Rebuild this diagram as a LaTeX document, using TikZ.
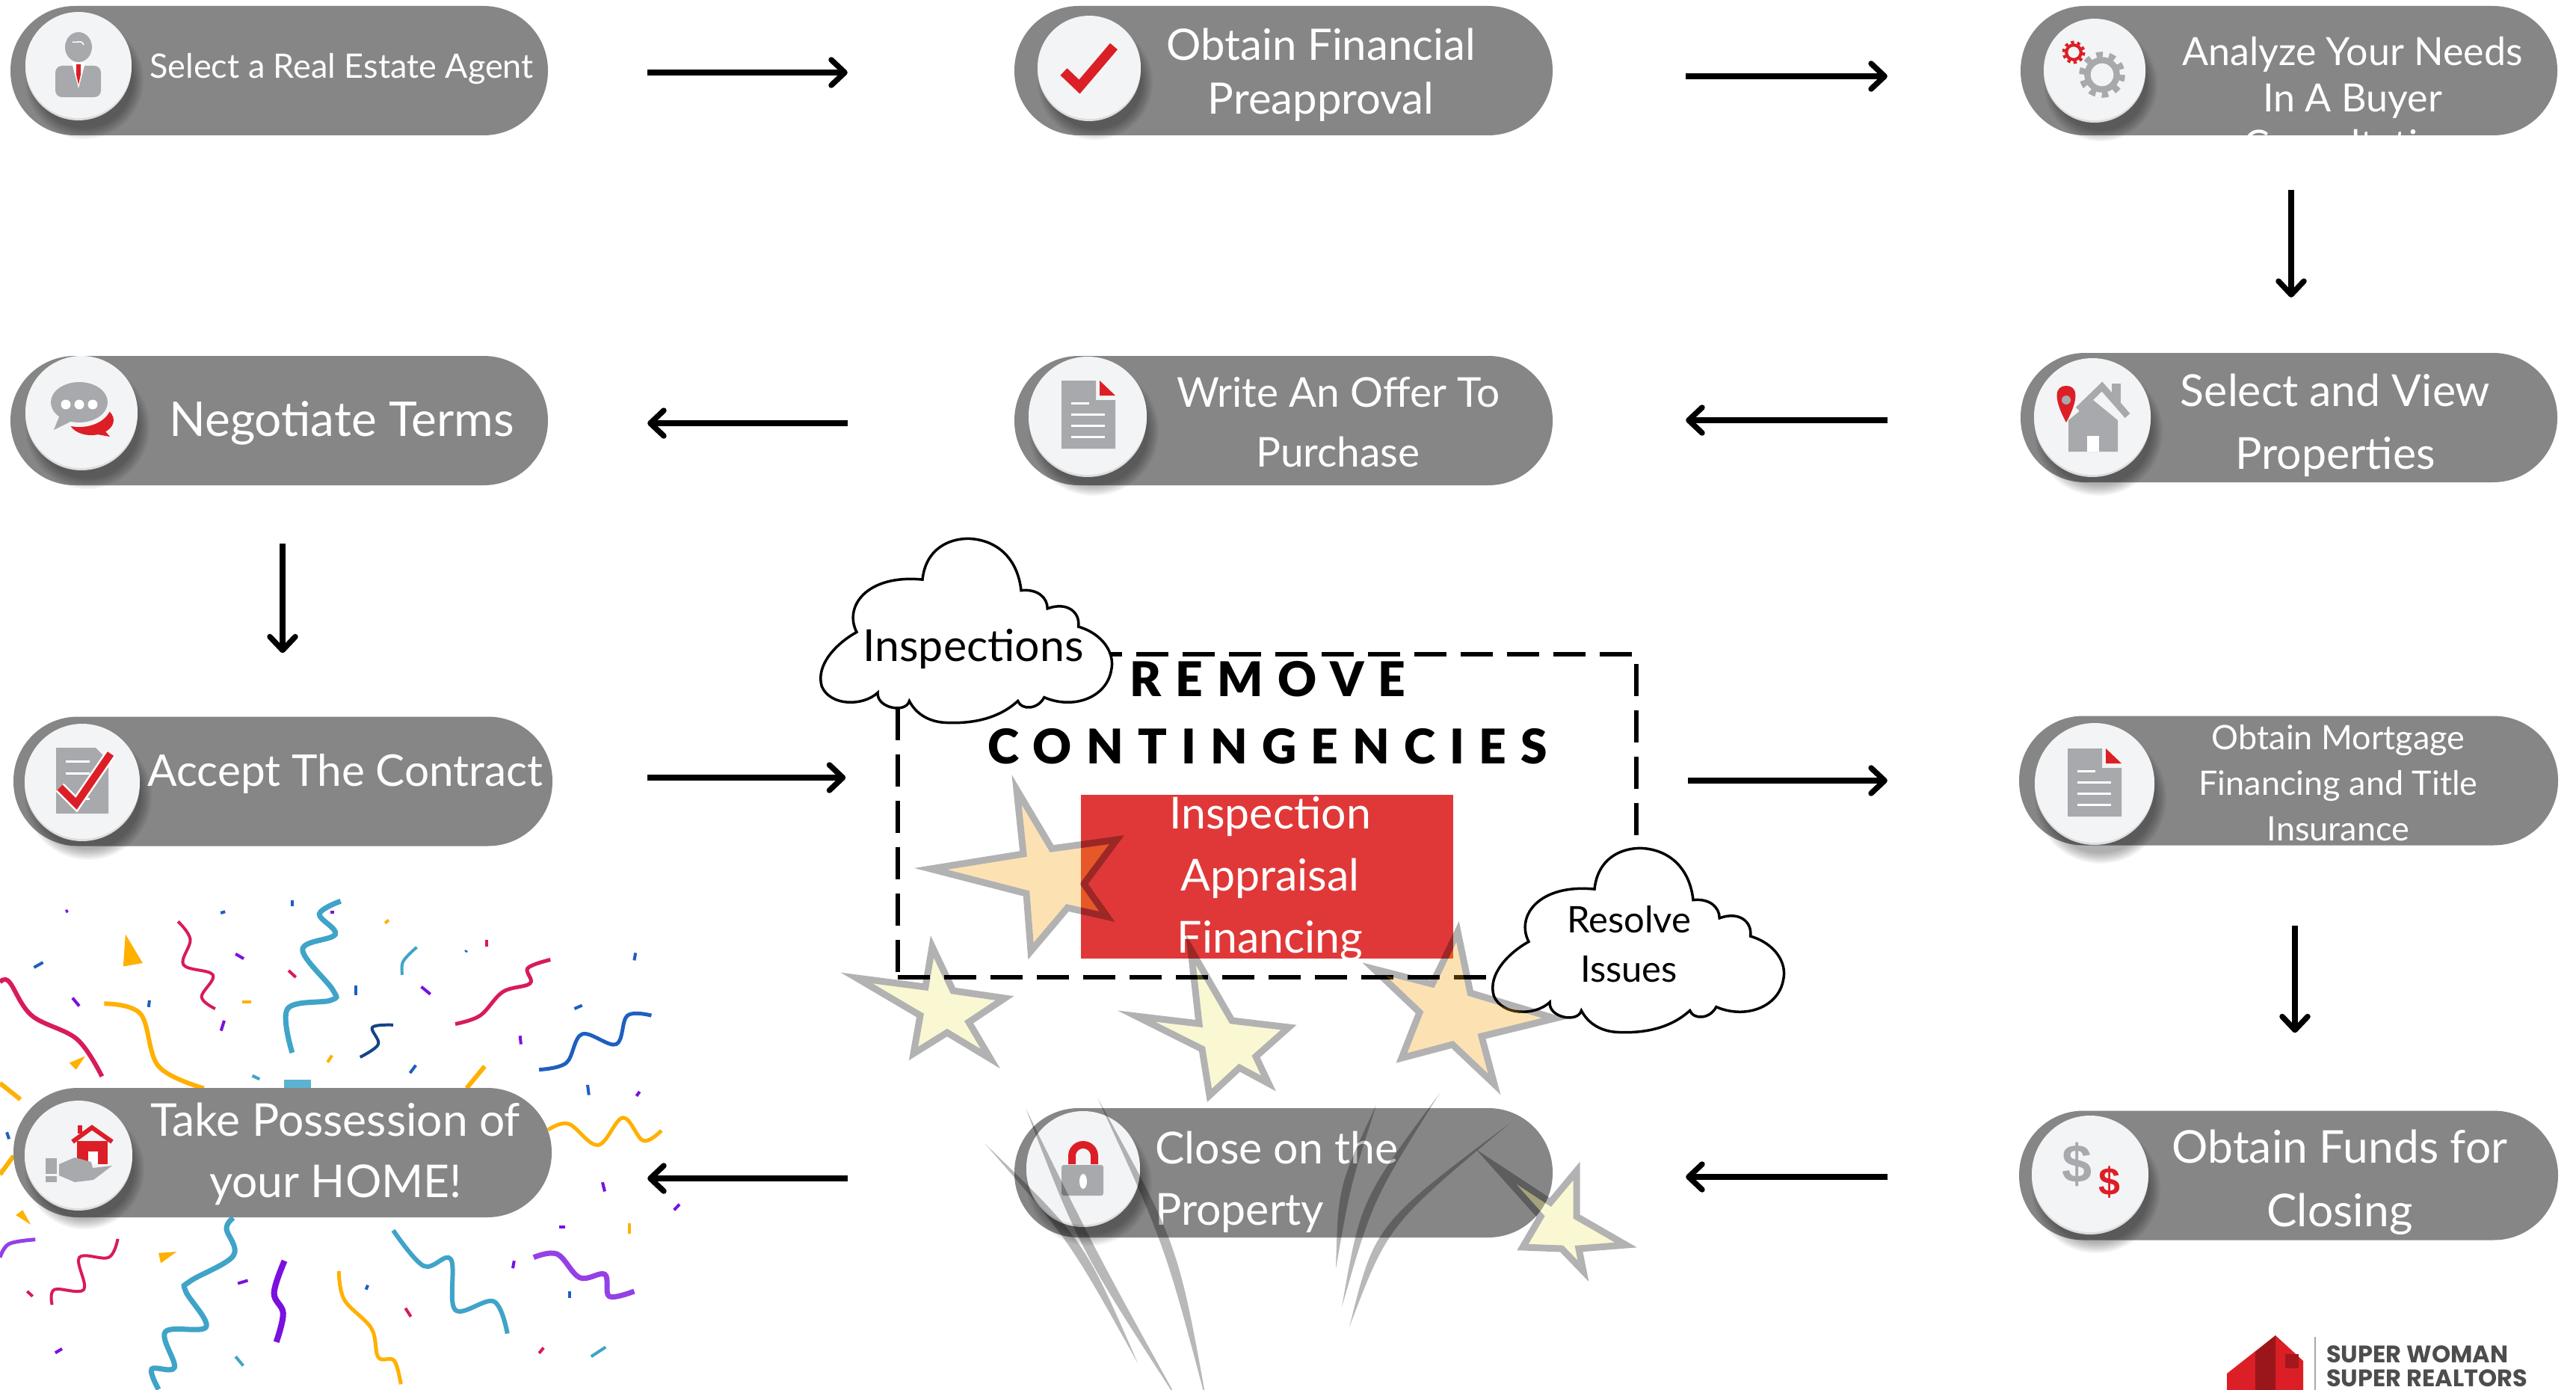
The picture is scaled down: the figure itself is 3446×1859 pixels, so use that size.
\documentclass[tikz,border=0pt]{standalone}
\usepackage{fontspec}
\usetikzlibrary{arrows.meta}
\setmainfont{Lato}
\newfontfamily\logofont{Poppins}
\newfontfamily\dollarfont{Liberation Sans}
\newfontfamily\titlefont[LetterSpace=30]{Lato Black}
\definecolor{pillgray}{HTML}{858685}
\definecolor{disc}{HTML}{F3F4F6}
\definecolor{discedge}{HTML}{DDDDDD}
\definecolor{icgray}{HTML}{A7A9AC}
\definecolor{icred}{HTML}{DC1F26}
\definecolor{boxred}{HTML}{E03838}
\definecolor{starorange}{HTML}{F8A205}
\definecolor{staryellow}{HTML}{EEE870}
\definecolor{crim}{HTML}{D81B5A}
\definecolor{amber}{HTML}{FFB000}
\definecolor{teal}{HTML}{3FA4C8}
\definecolor{navy}{HTML}{1E5FC0}
\definecolor{violet}{HTML}{7A10E0}
\definecolor{logogray}{HTML}{4D4D4F}
\tikzset{
  pill/.style={fill=pillgray,rounded corners=86pt,minimum height=173pt,inner sep=0pt},
  lbl/.style={text=white,align=center,inner sep=0pt},
  flow/.style={line width=8pt,-{Straight Barb[length=18pt,width=34pt,line width=7.5pt,round]}},
  starb/.style={draw=black,line width=9pt,line join=miter,miter limit=12},
  cloudb/.style={draw=black,fill=white,line width=3.5pt},
  rib/.style={line width=6pt,line cap=butt},
}
\newcommand\fsz[2]{\fontsize{#1pt}{#2pt}\selectfont}
\newcommand\badge[4]{%
  \foreach \i in {0,...,7}{\fill[black,opacity=.045] ({#2+8},{#3+20}) circle[radius={#4+8-2*\i}];}
  \fill[discedge] ({#2},{#3+3}) circle[radius=#4];
  \node[fill=disc,circle,inner sep=0pt,minimum size={2*#4 pt}] (#1) at (#2,#3) {};
}
\newcommand\docicon[2]{%
  \fill[icgray] (#1,#2) -- ++(46,0) -- ++(0,26) -- ++(26,0) -- ++(0,65) -- ++(-72,0) -- cycle;
  \fill[icred] ({#1+51},#2) -- ++(21,20) -- ++(-21,0) -- cycle;
  \draw[white,line width=3pt] ({#1+13},{#2+30}) -- ++(24,0);
  \foreach \d in {45,60,75}{\draw[white,line width=3pt] ({#1+13},{#2+\d}) -- ++(45,0);}
}
\newcommand\gearic[4]{%
  \draw[#1,line width={0.3*#4 pt}] (#2,#3) circle[radius={0.7*#4}];
  \draw[#1,line width={0.3*#4 pt},dash pattern=on {0.3*#4 pt} off {0.3*#4 pt}] (#2,#3) circle[radius={0.95*#4}];
}
\newcommand\starp[2]{\begin{scope}[transparency group,opacity=.3]\filldraw[starb,fill=#1] #2 -- cycle;\end{scope}}
\newcommand\streak[4]{\fill[black,opacity=.28] (#1) .. controls (#3) .. (#2) .. controls (#4) .. (#1) -- cycle;}
\def\cloudpath{(75,300) .. controls (55,230) and (90,140) .. (175,155) .. controls (180,70) and (215,42) .. (245,42) .. controls (290,45) and (320,100) .. (325,185) .. controls (350,180) and (365,205) .. (365,235) .. controls (395,215) and (415,245) .. (412,285) .. controls (450,305) and (468,360) .. (462,405) .. controls (455,480) and (405,515) .. (360,480) .. controls (350,515) and (325,515) .. (320,490) .. controls (290,540) and (250,552) .. (215,550) .. controls (185,550) and (165,525) .. (155,490) .. controls (150,525) and (105,510) .. (107,467) .. controls (85,505) and (35,505) .. (22,450) .. controls (12,390) and (45,330) .. (75,300) -- cycle}
\begin{document}
\begin{tikzpicture}[x=1pt,y=-1pt]
\path[use as bounding box] (0,0) rectangle (3446,1859);
\clip (0,0) rectangle (3446,1859);
\fill[white] (0,0) rectangle (3446,1859);
% ---------- confetti
\begin{scope}[shift={(0,1150)},x=.606pt,y=-.4525pt]
\draw[rib,crim] plot[smooth,tension=.6] coordinates {(0,362)(20,360)(70,460)(170,530)(225,640)};
\draw[rib,amber] plot[smooth,tension=.6] coordinates {(230,425)(310,455)(350,610)(450,675)};
\draw[rib,crim,line width=4pt] plot[smooth,tension=.6] coordinates {(393,182)(420,235)(405,310)(470,340)(445,405)(475,440)};
\draw[rib,teal,line width=7pt] plot[smooth,tension=.6] coordinates {(752,122)(705,160)(740,220)(668,265)(735,385)(730,415)(635,440)(645,570)};
\draw[rib,teal,line width=4pt] plot[smooth,tension=.6] coordinates {(920,258)(890,300)(888,340)};
\draw[rib,crim,line width=5pt] plot[smooth,tension=.6] coordinates {(1215,295)(1165,320)(1170,365)(1110,390)(1060,460)(1005,485)};
\draw[rib,navy!70!black,line width=4pt] plot[smooth,tension=.6] coordinates {(868,488)(822,495)(835,545)(795,583)};
\draw[rib,navy,line width=5pt] plot[smooth,tension=.6] coordinates {(1438,460)(1385,460)(1360,545)(1285,515)(1250,600)(1190,620)};
\draw[rib,amber] (0,660) -- (45,708);
\draw[rib,amber] (1070,610) -- (1030,675);
\draw[rib,amber] (0,930) -- (30,875);
\fill[teal!85] (627,650) rectangle (687,680);
\draw[rib,amber,line width=5pt] plot[smooth,tension=.6] coordinates {(1210,798)(1255,780)(1320,843)(1375,762)(1420,830)(1460,800)};
\draw[rib,teal,line width=7pt] plot[smooth,tension=.6] coordinates {(515,1058)(500,1090)(515,1170)(420,1245)(410,1275)(455,1380)(365,1395)(385,1500)(335,1505)(350,1565)};
\draw[rib,violet,line width=8pt] plot[smooth,tension=.6] coordinates {(628,1185)(605,1280)(625,1340)(610,1425)};
\draw[rib,amber,line width=5pt] plot[smooth,tension=.6] coordinates {(748,1215)(760,1300)(820,1385)(835,1470)(870,1480)(885,1550)};
\draw[rib,teal,line width=6pt] plot[smooth,tension=.6] coordinates {(868,1095)(935,1200)(995,1180)(1005,1330)(1090,1305)(1120,1400)};
\draw[rib,violet!80!white,line width=7pt] plot[smooth,tension=.6] coordinates {(1178,1175)(1230,1165)(1280,1235)(1335,1225)(1345,1290)(1400,1275)};
\draw[rib,crim,line width=4pt] plot[smooth,tension=.6] coordinates {(260,1120)(240,1175)(175,1175)(185,1270)(120,1270)(115,1315)};
\draw[rib,violet!80!white,line width=5pt] plot[smooth,tension=.6] coordinates {(0,1175)(20,1135)(78,1122)};
\fill[amber] (277,220) -- (315,305) -- (272,315) -- cycle;
\fill[amber] (153,600) -- (188,580) -- (168,620) -- cycle;
\fill[amber] (35,1050) -- (50,1035) -- (68,1078) -- cycle;
\fill[amber] (350,1162) -- (390,1158) -- (355,1192) -- cycle;
\foreach \c/\a/\b/\d/\e in {navy/75/318/95/303,violet/160/408/175/432,navy/330/415/328/435,amber/535/420/555/420,violet/495/475/488/505,violet/520/278/538/292,crim/637/327/653/347,navy/645/120/645/137,navy/785/372/785/400,violet/930/375/950/397,crim/1075/237/1075/257,navy/1403/275/1400/297,navy/1268/440/1285/430,violet/1148/520/1150/545,amber/733/578/723/598,navy/918/607/905/630,teal/557/638/573/648,navy/1297/665/1300/695,violet/1412/685/1405/698,violet/1330/953/1335/980,violet/1500/1018/1488/1035,amber/1390/1075/1390/1105,violet/1235/1085/1248/1085,violet/1135/1185/1132/1207,navy/1257/1275/1257/1295,crim/895/1325/907/1350,navy/812/1257/808/1270,violet/525/1252/547/1243,crim/60/1275/72/1290,violet/122/1457/137/1445,teal/520/1468/537/1495,crim/1190/1458/1200/1442,teal/1305/1468/1337/1440,navy/15/805/20/825,amber/850/187/858/178,navy/487/157/497/153,violet/145/153/150/150,violet/730/155/737/155,navy/1030/268/1028/272}
  {\draw[\c,line width=4pt] (\a,\b) -- (\d,\e);}
\end{scope}
% ---------- pills
\node[pill,minimum width=719pt] (p1) at (373.5,94.5) {};
\node[pill,minimum width=720pt] (p2) at (1717,94.5) {};
\node[pill,minimum width=718pt] (p3) at (3062,94.5) {};
\node[pill,minimum width=719pt] (p4) at (373.5,562.5) {};
\node[pill,minimum width=720pt] (p5) at (1717,562.5) {};
\node[pill,minimum width=718pt] (p6) at (3062,558.5) {};
\node[pill,minimum width=721pt] (p7) at (378.5,1045) {};
\node[pill,minimum width=721pt] (p8) at (3061.5,1044) {};
\node[pill,minimum width=721pt] (p9) at (3061.5,1572) {};
\node[pill,minimum width=720pt] (p10) at (378,1541.5) {};
\node[pill,minimum width=720pt] (p11) at (1717,1568.5) {};
% ---------- badges
\badge{b1}{105}{87}{71}
\badge{b2}{1457}{90}{69}
\badge{b3}{2802}{93}{68}
\badge{b4}{109}{551}{75}
\badge{b5}{1455}{556}{79}
\badge{b6}{2799}{557}{78}
\badge{b7}{110}{1045}{77}
\badge{b8}{2802}{1047}{80}
\badge{b9}{2796}{1570}{78}
\badge{b10}{105}{1544}{72}
\badge{b11}{1449}{1562}{76}
% icons
% agent
\fill[icgray] (105,63) ellipse[x radius=18,y radius=20];
\fill[icgray,rounded corners=9pt] (74,130) rectangle (135,88);
\fill[white] (96,84) -- (114,84) -- (105,118) -- cycle;
\fill[icred] (102,86) -- (108,86) -- (108,100) -- (105,113) -- (102,100) -- cycle;
\draw[white,line width=1.5pt] (97,56) .. controls (104,58) and (108,52) .. (112,60);
% check
\draw[icred,line width=13pt] (1423,96) -- (1444,116) -- (1490,62);
% gears
\gearic{icred}{2774}{70}{14}
\gearic{icgray}{2812}{100}{28}
% chat
\fill[icred] (122,562) ellipse[x radius=30,y radius=20];
\fill[icred] (135,570) -- (147,584) -- (125,580) -- cycle;
\fill[disc] (106,540) ellipse[x radius=43,y radius=31];
\fill[icgray] (106,538) ellipse[x radius=38,y radius=27];
\fill[icgray] (80,555) -- (72,575) -- (98,562) -- cycle;
\foreach \xx in {88,106,124}{\fill[white] (\xx,541) circle[radius=6.5];}
% documents
\docicon{1420}{509}
\docicon{2766}{1001}
% pin and house
\fill[icgray] (2767,604) -- (2767,562) -- (2800,535) -- (2833,562) -- (2833,604) -- cycle;
\fill[white] (2792,583) rectangle (2808,604);
\draw[icgray,line width=9pt] (2780,548) -- (2812,517) -- (2846,556);
\fill[icgray] (2825,513) rectangle (2837,538);
\fill[icred] (2764,565) .. controls (2745,530) and (2750,516) .. (2764,516) .. controls (2778,516) and (2783,530) .. (2764,565) -- cycle;
\fill[icgray] (2764,535) circle[radius=6];
% contract
\fill[icgray] (75,1000) -- (128,1000) -- (145,1017) -- (145,1088) -- (75,1088) -- cycle;
\foreach \d in {1018,1034,1068}{\draw[white,line width=3pt] (88,\d) -- (120,\d);}
\draw[white,line width=15pt] (80,1053) -- (102,1075) -- (148,1008);
\draw[icred,line width=10pt] (80,1053) -- (102,1075) -- (148,1008);
% dollars
\node[inner sep=0pt,text=icgray,font=\dollarfont\bfseries\fsz{72}{72}] (d1) at (2778,1557) {\$};
\node[inner sep=0pt,text=icred,font=\dollarfont\bfseries\fsz{52}{52}] (d2) at (2822,1581) {\$};
% hand and house
\fill[icred] (103,1526) rectangle (144,1557);
\fill[white] (118,1540) rectangle (131,1557);
\draw[icred,line width=6pt] (97,1527) -- (123,1508) -- (150,1527);
\fill[icred] (104,1505) rectangle (110,1516);
\fill[icgray] (79,1557) -- (100,1548) -- (122,1554) -- (124,1562) -- (150,1559) -- (125,1578) -- (100,1581) -- (79,1572) -- cycle;
\fill[icgray] (61,1549) rectangle (76,1570);
\fill[icgray] (61,1573) rectangle (76,1581);
% lock
\draw[icred,line width=10pt] (1434,1557) -- (1434,1546) arc[start angle=180,end angle=360,radius=15] -- (1464,1557);
\fill[icgray,rounded corners=3pt] (1420,1558) rectangle (1476,1599);
\fill[white] (1449,1580) ellipse[x radius=5,y radius=10];
% ---------- pill labels
\node[lbl,font=\fsz{45}{45}] (t1) at (457,92) {Select a Real Estate Agent};
\node[lbl,font=\fsz{58}{72}] (t2) at (1767,100) {Obtain Financial\\Preapproval};
\begin{scope}
\clip[rounded corners=86pt] (2703,8) rectangle (3421,181);
\node[lbl,font=\fsz{52}{62}] (t3) at (3147,131) {Analyze Your Needs\\In A Buyer\\Consultation};
\end{scope}
\node[lbl,font=\fsz{64}{64}] (t4) at (457,566) {Negotiate Terms};
\node[lbl,font=\fsz{55}{80}] (t5) at (1790,565) {Write An Offer To\\Purchase};
\node[lbl,font=\fsz{59}{84}] (t6) at (3124,569) {Select and View\\Properties};
\node[lbl,font=\fsz{58.5}{58.5}] (t7) at (462,1035) {Accept The Contract};
\node[lbl,font=\fsz{45}{61}] (t8) at (3128,1047) {Obtain Mortgage\\Financing and Title\\Insurance};
\node[lbl,font=\fsz{60.5}{85}] (t9) at (3130,1581) {Obtain Funds for\\Closing};
\node[lbl,font=\fsz{60.5}{82}] (t10) at (449,1543) {Take Possession of\\your HOME!};
\node[lbl,align=left,anchor=west,font=\fsz{59}{82}] (t11) at (1545,1581) {Close on the\\Property};
% ---------- contingencies box
\node[draw=black,line width=5.5pt,dash pattern=on 43pt off 19pt,minimum width=988pt,minimum height=432pt,inner sep=0pt] (box) at (1695,1091) {};
\node[fill=boxred,minimum width=498pt,minimum height=219pt,inner sep=0pt] (red) at (1695,1172.5) {};
\node[lbl,font=\fsz{59}{83}] (rt) at (1699,1175) {Inspection\\Appraisal\\Financing};
\node[inner sep=0pt,font=\titlefont\fsz{64}{64}] (h1) at (1696,908) {REMOVE};
\node[inner sep=0pt,font=\titlefont\fsz{64}{64}] (h2) at (1696,998) {CONTINGENCIES};
% ---------- clouds
\begin{scope}[shift={(1080,700)},x=.88pt,y=-.4847pt]
\draw[cloudb] \cloudpath;
\end{scope}
\begin{scope}[shift={(1979,1114)},x=.88pt,y=-.4847pt]
\draw[cloudb] \cloudpath;
\end{scope}
\node[inner sep=0pt,font=\fsz{59}{59}] (c1) at (1302,868) {Inspections};
\node[inner sep=0pt,align=center,font=\fsz{49}{66}] (c2) at (2179,1263) {Resolve\\Issues};
% ---------- stars
\starp{starorange}{(1360,1056) -- (1407,1135) -- (1494,1123) -- (1450,1182) -- (1481,1226) -- (1428,1214) -- (1379,1272) -- (1373,1195) -- (1245,1162) -- (1369,1142)}
\starp{staryellow}{(1247,1266) -- (1275,1325) -- (1344,1335) -- (1296,1367) -- (1325,1416) -- (1267,1381) -- (1222,1409) -- (1231,1358) -- (1146,1308) -- (1238,1320)}
\starp{staryellow}{(1593,1270) -- (1648,1365) -- (1724,1374) -- (1680,1413) -- (1697,1449) -- (1658,1428) -- (1618,1465) -- (1608,1403) -- (1520,1359) -- (1604,1369)}
\starp{starorange}{(1950,1246) -- (1967,1328) -- (2080,1362) -- (1982,1386) -- (1999,1450) -- (1943,1397) -- (1875,1415) -- (1899,1354) -- (1838,1296) -- (1916,1316)}
\starp{staryellow}{(2109,1566) -- (2109,1627) -- (2175,1665) -- (2112,1670) -- (2118,1700) -- (2089,1670) -- (2037,1668) -- (2061,1627) -- (2001,1560) -- (2074,1608)}
% ---------- streaks
\streak{1318,1530}{1522,1823}{1430,1658}{1450,1658}
\streak{1372,1482}{1580,1880}{1444,1670}{1464,1670}
\streak{1468,1468}{1615,1880}{1558,1664}{1576,1664}
\streak{1841,1478}{1787,1697}{1790,1587}{1806,1587}
\streak{1926,1462}{1795,1748}{1820,1605}{1836,1605}
\streak{2020,1502}{1805,1775}{1839,1638}{1857,1638}
% ---------- arrows
\draw[flow,shorten <=133pt,shorten >=223pt] ([yshift=-2.5pt]p1.east) -- ([yshift=-2.5pt]p2.west);
\draw[flow,shorten <=178pt,shorten >=178pt] ([yshift=-7.5pt]p2.east) -- ([yshift=-7.5pt]p3.west);
\draw[flow,shorten <=73pt,shorten >=74pt] ([xshift=3pt]p3.south) -- ([xshift=3pt]p6.north);
\draw[flow,shorten <=178pt,shorten >=178pt] ([yshift=-3.5pt]p6.west) -- ([yshift=.5pt]p5.east);
\draw[flow,shorten <=223pt,shorten >=133pt] ([yshift=-3.5pt]p5.west) -- ([yshift=-3.5pt]p4.east);
\draw[flow,shorten <=78pt,shorten >=85pt] ([xshift=4.5pt]p4.south) -- ([xshift=-.5pt]p7.north);
\draw[flow,shorten <=127pt,shorten >=67pt] ([yshift=5pt]p7.east) -- ([yshift=51pt]box.west);
\draw[flow,shorten <=66pt,shorten >=176pt] ([yshift=47pt]box.east) -- (p8.west);
\draw[flow,shorten <=107pt,shorten >=104pt] ([xshift=8.5pt]p8.south) -- ([xshift=8.5pt]p9.north);
\draw[flow,shorten <=176pt,shorten >=178pt] ([yshift=-2pt]p9.west) -- ([yshift=-5.5pt]p11.east);
\draw[flow,shorten <=223pt,shorten >=128pt] ([yshift=-7.5pt]p11.west) -- ([yshift=-34.5pt]p10.east);
% ---------- logo
\fill[icred] (2979,1859) -- (2979,1837) -- (3044,1786) -- (3081,1820) -- (3081,1859) -- cycle;
\fill[icred!70!black] (3017,1808) -- (3044,1786) -- (3044,1859) -- (3017,1859) -- cycle;
\fill[icred!75!black] (3057,1811) rectangle (3075,1830);
\draw[icgray,line width=1.5pt] (3097,1788) -- (3097,1859);
\node[anchor=west,inner sep=0pt,text=logogray,font=\logofont\bfseries\fsz{32}{32}] (l1) at (3112,1811) {SUPER WOMAN};
\node[anchor=west,inner sep=0pt,text=logogray,font=\logofont\bfseries\fsz{32}{32}] (l2) at (3112,1843) {SUPER REALTORS};
\end{tikzpicture}
\end{document}
